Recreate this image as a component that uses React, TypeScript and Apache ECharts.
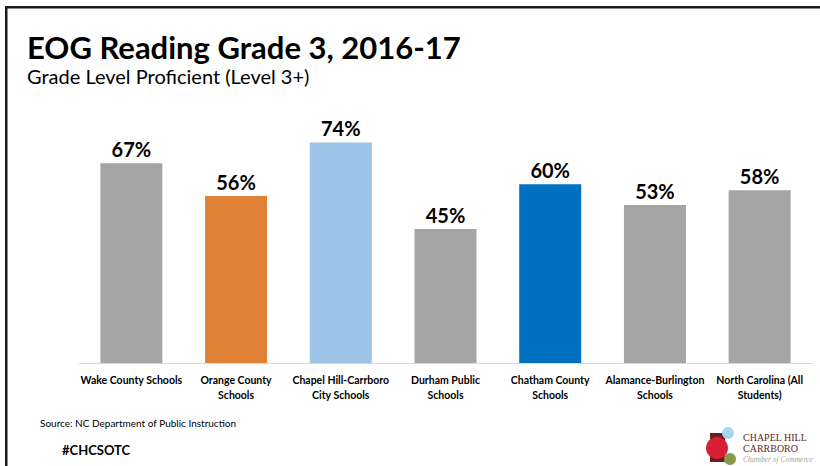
import React, { useEffect, useRef } from "react";
import * as echarts from "echarts";

const categories = [
  "Wake County Schools",
  "Orange County\nSchools",
  "Chapel Hill-Carrboro\nCity Schools",
  "Durham Public\nSchools",
  "Chatham County\nSchools",
  "Alamance-Burlington\nSchools",
  "North Carolina (All\nStudents)",
];
const values = [67, 56, 74, 45, 60, 53, 58];
const barColors = ["#A5A5A5", "#E08236", "#9DC3E6", "#A5A5A5", "#0070C0", "#A5A5A5", "#A5A5A5"];

const titleText = "EOG Reading Grade 3, 2016-17";
const subtitleText = "Grade Level Proficient (Level 3+)";
const sourceText = "Source: NC Department of Public Instruction";
const hashtagText = "#CHCSOTC";

const sans = "Lato, 'Open Sans', sans-serif";
const serif = "'Liberation Serif', 'DejaVu Serif', serif";

export default function App() {
  const ref = useRef<HTMLDivElement>(null);
  useEffect(() => {
    if (!ref.current) return;
    const chart = echarts.init(ref.current, null, { renderer: "svg" });
    chart.setOption({
      animation: false,
      backgroundColor: "#ffffff",
      grid: { left: 79, right: 8, top: 65, bottom: 103, containLabel: false },
      xAxis: {
        type: "category",
        data: categories,
        axisLine: { show: true, lineStyle: { color: "#D9D9D9", width: 1 } },
        axisTick: { show: false },
        axisLabel: {
          interval: 0,
          color: "#000",
          fontFamily: sans,
          fontWeight: "bold",
          fontSize: 10.5,
          lineHeight: 15,
          margin: 9,
          align: "center",
        },
      },
      yAxis: {
        type: "value",
        min: 0,
        max: 100,
        show: false,
        splitLine: { show: false },
      },
      series: [
        {
          type: "bar",
          barWidth: 62,
          data: values.map((v, i) => ({ value: v, itemStyle: { color: barColors[i] } })),
          label: {
            show: true,
            position: "top",
            distance: 4,
            formatter: "{c}%",
            color: "#000",
            fontFamily: sans,
            fontWeight: "bold",
            fontSize: 20,
          },
        },
      ],
      graphic: [
        { type: "rect", shape: { x: 5, y: 6, width: 815, height: 2.5 }, style: { fill: "#1a1a1a" } },
        { type: "rect", shape: { x: 5, y: 6, width: 2.5, height: 460 }, style: { fill: "#1a1a1a" } },
        {
          type: "text",
          left: 27,
          top: 31,
          style: { text: titleText, fill: "#000", font: "bold 31px " + sans },
        },
        {
          type: "text",
          left: 27,
          top: 66,
          style: { text: subtitleText, fill: "#000", font: "20px " + sans },
        },
        {
          type: "text",
          left: 40,
          top: 418,
          style: { text: sourceText, fill: "#000", font: "10px " + sans },
        },
        {
          type: "text",
          left: 62,
          top: 443,
          style: { text: hashtagText, fill: "#000", font: "bold 13px " + sans },
        },
        // logo
        { type: "rect", shape: { x: 710, y: 433, width: 15, height: 29 }, style: { fill: "#6B1E1A" } },
        { type: "circle", shape: { cx: 728, cy: 433, r: 6 }, style: { fill: "#A8D4F0" } },
        { type: "circle", shape: { cx: 717, cy: 448, r: 11 }, style: { fill: "#D91F35" } },
        { type: "circle", shape: { cx: 730, cy: 459, r: 6 }, style: { fill: "#8A9A4A" } },
        {
          type: "text",
          left: 743,
          top: 432,
          style: { text: "CHAPEL HILL", fill: "#6B1E1A", font: "10px " + serif },
        },
        {
          type: "text",
          left: 743,
          top: 443,
          style: { text: "CARRBORO", fill: "#6B1E1A", font: "10px " + serif },
        },
        {
          type: "text",
          left: 743,
          top: 455,
          style: { text: "Chamber of Commerce", fill: "#A8A88A", font: "italic 7.5px " + serif },
        },
      ],
    });
    return () => chart.dispose();
  }, []);
  return (
    <div
      ref={ref}
      style={{ position: "absolute", left: 0, top: 0, width: 820, height: 466 }}
    />
  );
}
